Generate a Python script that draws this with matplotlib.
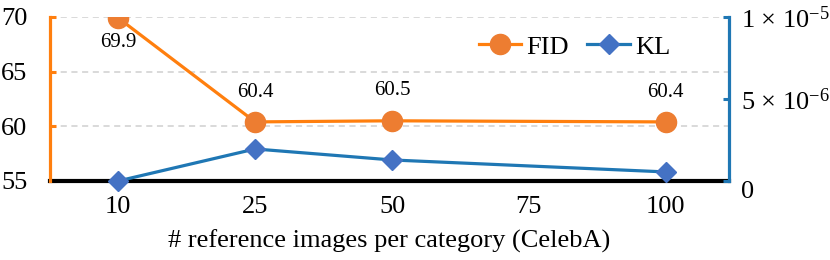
import matplotlib
matplotlib.use("Agg")
import matplotlib.pyplot as plt
from matplotlib import font_manager

# data
categories = ["10", "25", "50", "75", "100"]
fid_pos = [0, 1, 2, 4]
fid_values = [69.9, 60.4, 60.5, 60.4]
kl_pos = [0, 1, 2, 4]
kl_values = [0.0, 1.95e-6, 1.28e-6, 0.55e-6]
left_ticks = [55, 60, 65, 70]
right_ticks = [0, 5e-6, 1e-5]
right_labels = ["0", "5 \u00d7 10$^{\\mathrm{-6}}$", "1 \u00d7 10$^{\\mathrm{-5}}$"]

# pick a Times-like serif that is really installed
installed = {f.name for f in font_manager.fontManager.ttflist}
serif = next((n for n in ["Liberation Serif", "Times New Roman", "Nimbus Roman",
                          "TeX Gyre Termes", "DejaVu Serif"] if n in installed),
             "DejaVu Serif")
plt.rcParams["font.family"] = [serif, "DejaVu Serif"]
plt.rcParams["mathtext.fontset"] = "custom"
plt.rcParams["mathtext.rm"] = serif
plt.rcParams["mathtext.it"] = serif + ":italic"
plt.rcParams["mathtext.default"] = "regular"

orange_line = "#FF7F0E"
orange_mark = "#ED7D31"
blue_line = "#1F77B4"
blue_mark = "#4472C4"

fig = plt.figure(figsize=(8.3, 2.6), dpi=100)
ax = fig.add_axes([0.060, 0.304, 0.818, 0.631])
ax2 = ax.twinx()

ax.plot(fid_pos, fid_values, color=orange_line, lw=2.3, marker="o",
        ms=14.5, mfc=orange_mark, mec=orange_mark, label="FID", zorder=3)
ax.plot([], [], color=blue_line, lw=2.3, marker="D", ms=10.5,
        mfc=blue_mark, mec=blue_mark, label="KL")
ax2.plot(kl_pos, kl_values, color=blue_line, lw=2.3, marker="D", ms=10.5,
         mfc=blue_mark, mec=blue_mark, zorder=3, clip_on=False)

for i, (x, v) in enumerate(zip(fid_pos, fid_values)):
    off = -18 if i == 0 else 21.5
    ax.annotate(f"{v:.1f}", (x, v), xytext=(0, off),
                textcoords="offset points", ha="center", va="center",
                fontsize=15)

ax.set_xlim(-0.5, 4.46)
ax.set_xticks(range(len(categories)))
ax.set_xticklabels(categories)
ax.set_ylim(55, 70)
ax.set_yticks(left_ticks)
ax2.set_ylim(0, 1e-5)
ax2.set_yticks(right_ticks)
labels = ax2.set_yticklabels(right_labels)
labels[0].set_va("top")

ax.grid(axis="y", color="#d0d0d0", ls=(0, (4, 3)), lw=1.1)
ax.set_axisbelow(True)

ax.tick_params(axis="x", length=0, pad=11, labelsize=19)
ax.tick_params(axis="y", direction="in", length=4, width=2.2,
               color=orange_line, pad=16, labelsize=19)
ax2.tick_params(axis="y", direction="in", length=4, width=2.2,
                color=blue_line, pad=9, labelsize=19)

for a in (ax, ax2):
    a.spines["top"].set_visible(False)
    a.spines["bottom"].set_visible(False)
ax2.spines["left"].set_visible(False)
ax.spines["right"].set_visible(False)
ax.spines["left"].set_color(orange_line)
ax.spines["left"].set_linewidth(2.3)
ax2.spines["right"].set_color(blue_line)
ax2.spines["right"].set_linewidth(2.3)
ax.axhline(55, color="black", lw=3, zorder=2.5, clip_on=False)

ax.set_xlabel("# reference images per category (CelebA)", fontsize=19,
              labelpad=8)

ax.legend(loc="center", bbox_to_anchor=(0.773, 0.817), ncol=2,
          frameon=False, fontsize=19, handlelength=1.6, handletextpad=0.2,
          columnspacing=0.7)

fig.savefig("out.png", dpi=100)
